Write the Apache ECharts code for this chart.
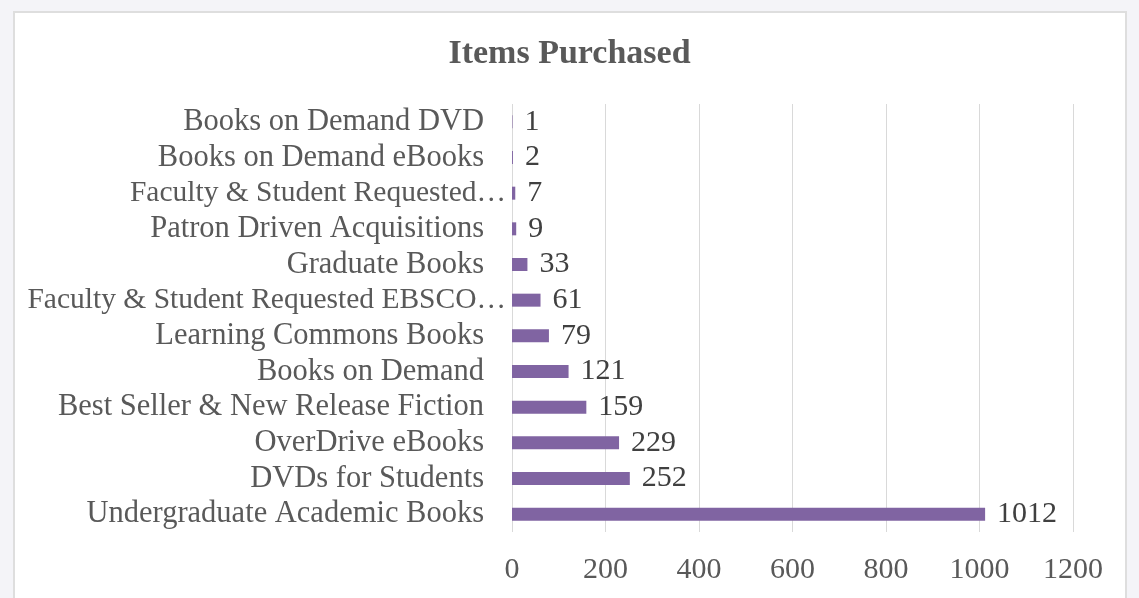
<!DOCTYPE html>
<html>
<head>
<meta charset="utf-8">
<script src="https://cdn.jsdelivr.net/npm/echarts@6/dist/echarts.min.js"></script>
<style>
html,body{margin:0;padding:0;background:#f4f4f8;}
#chart{width:1139px;height:598px;}
</style>
</head>
<body>
<div id="chart"></div>
<script>
// Categories listed top to bottom as shown in the chart
const categories = [
  "Books on Demand DVD",
  "Books on Demand eBooks",
  "Faculty & Student Requested…",
  "Patron Driven Acquisitions",
  "Graduate Books",
  "Faculty & Student Requested EBSCO…",
  "Learning Commons Books",
  "Books on Demand",
  "Best Seller & New Release Fiction",
  "OverDrive eBooks",
  "DVDs for Students",
  "Undergraduate Academic Books"
];
const itemsPurchased = [1, 2, 7, 9, 33, 61, 79, 121, 159, 229, 252, 1012];
const xTicks = { min: 0, max: 1200, interval: 200 };
const titleText = "Items Purchased";

const FONT = "'Liberation Serif', 'DejaVu Serif', serif";
const chart = echarts.init(document.getElementById('chart'), null, { renderer: 'canvas' });
chart.setOption({
  backgroundColor: '#f4f4f8',
  animation: false,
  graphic: [{
    type: 'rect',
    shape: { x: 14, y: 12, width: 1112, height: 600 },
    style: { fill: '#ffffff', stroke: '#dedede', lineWidth: 2 },
    z: -10
  }],
  title: {
    text: titleText,
    left: 'center',
    top: 32,
    textStyle: { fontFamily: FONT, fontWeight: 'bold', fontSize: 34, color: '#595959' }
  },
  grid: { left: 512, right: 66, top: 104, height: 428, containLabel: false },
  xAxis: {
    type: 'value',
    min: xTicks.min, max: xTicks.max, interval: xTicks.interval,
    axisLine: { show: false },
    axisTick: { show: false },
    splitLine: { show: true, lineStyle: { color: '#d9d9d9', width: 1 } },
    axisLabel: {
      fontFamily: FONT, fontSize: 30, color: '#595959', margin: 23,
      formatter: function (v) { return String(v); }
    }
  },
  yAxis: {
    type: 'category',
    inverse: true,
    data: categories,
    axisLine: { show: false },
    axisTick: { show: false },
    axisLabel: {
      margin: 6,
      formatter: function (v) {
        return v.endsWith('…') ? '{t|' + v + '}' : '{n|' + v + '}';
      },
      rich: {
        n: { fontFamily: FONT, fontSize: 30.5, color: '#595959', padding: [0, 22, 0, 0] },
        t: { fontFamily: FONT, fontSize: 29.5, color: '#595959' }
      }
    }
  },
  series: [{
    type: 'bar',
    data: itemsPurchased,
    barWidth: 13,
    itemStyle: { color: '#8064a2' },
    label: {
      show: true,
      position: 'right',
      distance: 12,
      fontFamily: FONT,
      fontSize: 30,
      color: '#404040'
    }
  }]
});
</script>
</body>
</html>
